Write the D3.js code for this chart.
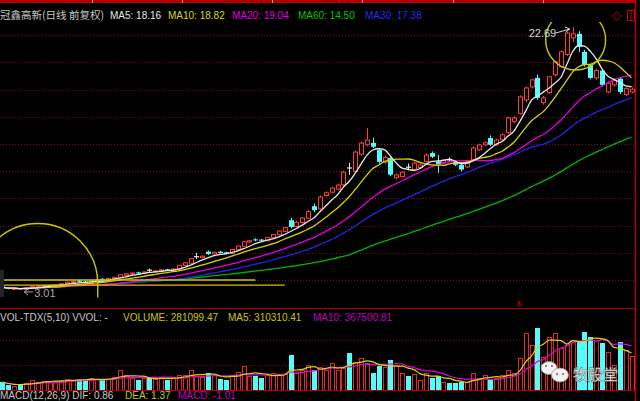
<!DOCTYPE html>
<html><head><meta charset="utf-8">
<script src="https://cdn.jsdelivr.net/npm/d3@7"></script>
<style>html,body{margin:0;padding:0;background:#000;overflow:hidden}</style>
</head><body><svg id="c" width="640" height="401"></svg>
<script>
// ---------- data ----------
const opens = [3.28,3.20,3.06,3.13,3.05,3.16,3.24,3.28,3.30,3.33,
 3.38,3.48,3.58,3.70,3.64,3.56,3.68,3.85,3.78,3.86,
 3.96,4.12,4.20,4.33,4.26,4.52,4.38,4.42,4.56,4.48,
 4.58,4.84,5.02,5.48,5.44,5.88,5.70,5.88,5.83,5.76,
 6.02,6.28,6.60,6.80,6.78,6.70,6.92,7.14,7.40,8.23,
 7.76,8.06,8.38,9.28,9.08,10.08,10.33,10.56,10.88,12.18,
 11.88,13.18,13.88,14.02,13.48,12.58,12.88,11.42,11.50,12.24,
 12.03,12.16,12.63,13.26,12.63,12.53,12.78,12.60,12.36,12.22,
 12.76,13.50,13.87,14.38,13.88,14.24,14.78,15.63,16.23,17.24,
 18.21,18.88,17.03,17.78,19.11,19.73,20.63,21.88,22.18,20.83,
 19.83,18.88,19.43,17.83,18.36,18.83,17.63,17.83];
const highs = [3.33,3.24,3.18,3.16,3.20,3.30,3.36,3.40,3.38,3.44,
 3.52,3.64,3.70,3.76,3.68,3.73,3.80,3.90,3.92,4.00,
 4.18,4.26,4.33,4.38,4.40,4.60,4.48,4.56,4.60,4.62,
 4.90,5.08,5.40,5.78,5.58,5.96,5.88,5.94,5.88,6.08,
 6.36,6.68,6.76,6.88,6.84,6.98,7.20,7.48,7.74,8.40,
 8.18,8.48,8.98,9.48,10.08,10.40,10.73,10.98,11.93,12.52,
 13.43,14.13,15.13,14.40,13.63,13.08,13.03,11.73,11.93,12.48,
 12.63,12.48,13.23,13.38,13.12,12.83,12.93,12.73,12.44,12.68,
 13.73,13.96,14.13,14.58,14.33,14.73,15.98,16.03,17.58,18.23,
 18.83,19.13,17.53,19.03,20.18,20.93,22.33,22.69,22.38,20.98,
 19.93,19.58,19.53,18.63,18.83,18.93,18.18,18.18];
const lows = [3.16,3.06,3.04,3.01,3.03,3.12,3.20,3.24,3.26,3.30,
 3.34,3.44,3.54,3.58,3.52,3.52,3.64,3.73,3.74,3.82,
 3.92,4.08,4.16,4.22,4.23,4.36,4.34,4.38,4.44,4.44,
 4.54,4.78,4.98,5.33,5.38,5.64,5.66,5.74,5.70,5.72,
 5.98,6.24,6.54,6.66,6.64,6.66,6.88,7.10,7.36,7.63,
 7.70,8.00,8.33,8.83,8.98,10.00,10.26,10.48,10.78,11.62,
 11.78,13.08,13.78,13.63,12.48,12.43,11.53,11.28,11.43,11.98,
 11.93,12.08,12.56,12.88,11.78,12.43,12.63,12.28,11.88,12.13,
 12.68,13.43,13.78,13.78,13.80,14.18,14.68,15.48,16.13,17.08,
 18.08,17.23,16.88,17.68,18.98,19.63,20.53,21.58,20.83,19.73,
 18.78,18.73,18.23,17.73,18.23,17.68,17.53,17.73];
const closes = [3.20,3.10,3.13,3.05,3.16,3.26,3.31,3.36,3.37,3.40,
 3.48,3.60,3.64,3.62,3.56,3.70,3.76,3.78,3.88,3.96,
 4.14,4.22,4.28,4.26,4.36,4.49,4.44,4.52,4.48,4.58,
 4.86,5.04,5.36,5.50,5.54,5.70,5.83,5.78,5.76,6.04,
 6.30,6.62,6.70,6.72,6.70,6.94,7.16,7.42,7.68,7.73,
 8.08,8.40,8.88,8.98,9.96,10.28,10.63,10.86,11.83,12.14,
 13.33,14.00,14.23,13.73,12.60,12.93,11.64,11.62,11.83,12.20,
 12.50,12.36,13.10,12.98,12.40,12.74,12.75,12.38,12.02,12.58,
 13.63,13.86,14.02,13.88,14.23,14.62,15.88,15.88,17.46,18.13,
 18.73,17.39,17.38,18.96,20.08,20.83,22.23,22.18,21.20,19.86,
 18.88,19.43,18.36,18.48,18.68,17.83,18.08,18.03];
const volumes = [66000,41000,33000,41000,58000,83000,66000,74000,66000,74000,
 83000,91000,83000,83000,83000,99000,91000,83000,91000,107000,
 165000,124000,99000,83000,99000,99000,91000,107000,83000,99000,
 124000,124000,165000,116000,107000,140000,124000,91000,83000,124000,
 149000,198000,116000,116000,99000,124000,140000,124000,132000,289000,
 140000,165000,206000,165000,190000,165000,223000,165000,182000,305000,
 231000,264000,223000,140000,198000,190000,248000,206000,140000,116000,
 132000,83000,140000,99000,116000,66000,58000,58000,66000,66000,
 140000,99000,124000,91000,99000,124000,165000,140000,264000,470000,
 371000,512000,272000,437000,470000,347000,371000,413000,396000,479000,
 437000,413000,388000,314000,206000,396000,330000,281099];
const categories = closes.map((_, i) => i);
const priceMAs = [60, 30, 20, 10, 5];
const volMAs = [10, 5];
const priceGrid = [3.76,5.79,7.83,9.87,11.90,13.94,15.97,18.01,20.05,22.08];
const volGrid = [206000, 413000];
const titleTexts = ["冠鑫高新(日线 前复权)", "MA5: 18.16", "MA10: 18.82", "MA20: 19.04", "MA60: 14.50", "MA30: 17.38"];
const volTexts = ["VOL-TDX(5,10) VVOL: -", "VOLUME: 281099.47", "MA5: 310310.41", "MA10: 367500.81"];
const macdTexts = ["MACD(12,26,9) DIF: 0.86", "DEA: 1.37", "MACD: -1.01"];
const highLabel = "22.69", lowLabel = "3.01";
// hand-drawn marks on the chart (price levels / bar indices)
const markLevels = [3.76, 3.38];
const markEnds = [43, 48];
const arcCenter = [6, 3.5], arcEnd = 16.2;
const ringCenter = [97.5, 21.72], ringRadiusBars = 5.1;

// ---------- styles ----------
const RED = "#ff3c3c", CYAN = "#54fcfc", BORDER = "#b40000";
const maColor = {5:"#e8e8e8", 10:"#d4d400", 20:"#e000e0", 30:"#2424e8", 60:"#00b400"};
const vmaColor = {5:"#d8d800", 10:"#e000e0"};
const LATIN = "'Liberation Sans', Arial, sans-serif";
const CJK = "'Noto Sans CJK SC', 'Liberation Sans', sans-serif";

// ---------- scales ----------
const x = d3.scaleBand().domain(categories).range([0, 634]).paddingInner(0.15);
const cx = i => x(0) + x.step() * i + x.bandwidth() / 2;
const y = d3.scaleLinear().domain([3.01, 22.69]).range([290, 27]);
const yv = d3.scaleLinear().domain([0, 520000]).range([390, 327]);

const movingAvg = (arr, n) => arr.map((_, i) => d3.mean(arr.slice(Math.max(0, i - n + 1), i + 1)));

const svg = d3.select("#c");
svg.append("rect").attr("width", 640).attr("height", 401).attr("fill", "#000");
const defs = svg.append("defs");
defs.append("clipPath").attr("id", "mainClip").append("rect")
  .attr("x", 0).attr("y", 22).attr("width", 635).attr("height", 285);
defs.append("clipPath").attr("id", "volClip").append("rect")
  .attr("x", 0).attr("y", 324).attr("width", 635).attr("height", 66);

// ---------- frame ----------
svg.append("rect").attr("x", 0).attr("y", 0).attr("width", 636).attr("height", 3).attr("fill", BORDER);
svg.selectAll("rect.tick").data([92,182,272,362,453,543]).join("rect")
  .attr("x", d => d).attr("y", 0).attr("width", 1).attr("height", 3).attr("fill", "#e89090");
svg.append("line").attr("x1", 635.5).attr("x2", 635.5).attr("y1", 0).attr("y2", 401)
  .attr("stroke", BORDER).attr("stroke-width", 1.5);
[308.5, 390.5].forEach(v => svg.append("line").attr("x1", 0).attr("x2", 636)
  .attr("y1", v).attr("y2", v).attr("stroke", BORDER).attr("stroke-width", 1.2));

// ---------- main panel ----------
const gMain = svg.append("g").attr("clip-path", "url(#mainClip)");
gMain.selectAll("line.grid").data(priceGrid).join("line")
  .attr("x1", 0).attr("x2", 635)
  .attr("y1", d => Math.round(y(d)) + 0.5).attr("y2", d => Math.round(y(d)) + 0.5)
  .attr("stroke", "#7a1818").attr("stroke-dasharray", "1,2");

const candle = gMain.selectAll("g.k").data(categories).join("g");
const kind = i => Math.abs(closes[i] - opens[i]) < 0.045 ? "doji" : (closes[i] > opens[i] ? "up" : "down");
const kColor = i => ({doji: "#e8e8e8", up: RED, down: CYAN})[kind(i)];
candle.append("line")
  .attr("x1", i => Math.round(cx(i)) + 0.5).attr("x2", i => Math.round(cx(i)) + 0.5)
  .attr("y1", i => y(highs[i])).attr("y2", i => y(lows[i]))
  .attr("stroke", kColor).attr("stroke-width", 1);
candle.filter(i => kind(i) === "up").append("rect")
  .attr("x", i => Math.round(cx(i)) - 1.5).attr("width", 4)
  .attr("y", i => y(closes[i])).attr("height", i => Math.max(1, y(opens[i]) - y(closes[i])))
  .attr("fill", "#000").attr("stroke", RED).attr("stroke-width", 1);
candle.filter(i => kind(i) === "down").append("rect")
  .attr("x", i => Math.round(cx(i)) - 2).attr("width", 5)
  .attr("y", i => y(opens[i])).attr("height", i => Math.max(1, y(closes[i]) - y(opens[i])))
  .attr("fill", CYAN);
candle.filter(i => kind(i) === "doji").append("line")
  .attr("x1", i => Math.round(cx(i)) - 2).attr("x2", i => Math.round(cx(i)) + 3)
  .attr("y1", i => y(closes[i])).attr("y2", i => y(closes[i]))
  .attr("stroke", "#e8e8e8").attr("stroke-width", 1.2);

const priceLine = d3.line().x((d, i) => cx(i)).y(d => y(d)).curve(d3.curveMonotoneX);
priceMAs.forEach(n => {
  gMain.append("path").datum(movingAvg(closes, n)).attr("d", priceLine)
    .attr("fill", "none").attr("stroke", maColor[n]).attr("stroke-width", 1.3);
});

// hand-drawn marks
const markColors = ["#c8c800", "#e8b800"];
markLevels.forEach((p, k) => {
  gMain.append("line").attr("x1", 0).attr("x2", cx(markEnds[k]))
    .attr("y1", y(p)).attr("y2", y(p)).attr("stroke", markColors[k]).attr("stroke-width", 1.3);
});
const arcR = (arcEnd - arcCenter[0]) * x.step();
const acx = cx(arcCenter[0]), acy = y(arcCenter[1]);
gMain.append("path")
  .attr("d", `M${acx - arcR},${acy} A${arcR},${arcR} 0 0 1 ${acx + arcR},${acy} L${acx + arcR},${acy + 14}`)
  .attr("fill", "none").attr("stroke", "#c8c800").attr("stroke-width", 1.4);
gMain.append("rect").attr("x", 0).attr("y", 270).attr("width", 4).attr("height", 27).attr("fill", "#242424");
gMain.append("circle").attr("cx", cx(ringCenter[0])).attr("cy", y(ringCenter[1]))
  .attr("r", ringRadiusBars * x.step()).attr("fill", "none").attr("stroke", "#c8c800").attr("stroke-width", 1.4);

// high / low labels
const iHigh = d3.maxIndex(highs), iLow = d3.minIndex(lows);
const hx = cx(iHigh), hy = y(highs[iHigh]);
svg.append("text").attr("x", hx - 44).attr("y", hy + 10).text(highLabel)
  .attr("fill", "#d8d8d8").attr("font-family", LATIN).attr("font-size", 11);
svg.append("path").attr("d", `M${hx - 17},${hy + 6} L${hx - 3},${hy + 2} M${hx - 8},${hy} L${hx - 3},${hy + 2} L${hx - 7},${hy + 5}`)
  .attr("fill", "none").attr("stroke", "#d8d8d8").attr("stroke-width", 1);
const lx = cx(iLow), ly = y(lows[iLow]);
svg.append("path").attr("d", `M${lx + 4},${ly + 2} L${lx + 13},${ly + 2} M${lx + 8},${ly - 1} L${lx + 4},${ly + 2} L${lx + 8},${ly + 5}`)
  .attr("fill", "none").attr("stroke", "#a8a8a8").attr("stroke-width", 1);
svg.append("text").attr("x", lx + 14).attr("y", ly + 7).text(lowLabel)
  .attr("fill", "#a8a8a8").attr("font-family", LATIN).attr("font-size", 11);

// ---------- volume panel ----------
const gVol = svg.append("g").attr("clip-path", "url(#volClip)");
gVol.selectAll("line.grid").data(volGrid).join("line")
  .attr("x1", 0).attr("x2", 635)
  .attr("y1", d => Math.round(yv(d)) + 0.5).attr("y2", d => Math.round(yv(d)) + 0.5)
  .attr("stroke", "#7a1818").attr("stroke-dasharray", "1,2");
const volDown = i => closes[i] < opens[i];
gVol.selectAll("rect.vu").data(categories.filter(i => !volDown(i))).join("rect")
  .attr("x", i => Math.round(cx(i)) - 1.5).attr("width", 4)
  .attr("y", i => Math.round(yv(volumes[i])) + 0.5).attr("height", i => 390 - Math.round(yv(volumes[i])))
  .attr("fill", "#000").attr("stroke", "#e02828").attr("stroke-width", 1);
gVol.selectAll("rect.vd").data(categories.filter(volDown)).join("rect")
  .attr("x", i => Math.round(cx(i)) - 2).attr("width", 5)
  .attr("y", i => yv(volumes[i])).attr("height", i => 390 - yv(volumes[i]))
  .attr("fill", CYAN);
const volLine = d3.line().x((d, i) => cx(i)).y(d => yv(d)).curve(d3.curveMonotoneX);
volMAs.forEach(n => {
  gVol.append("path").datum(movingAvg(volumes, n)).attr("d", volLine)
    .attr("fill", "none").attr("stroke", vmaColor[n]).attr("stroke-width", 1.2);
});

// watermark
const wm = svg.append("g");
wm.append("ellipse").attr("cx", 549).attr("cy", 368).attr("rx", 8).attr("ry", 6.5)
  .attr("fill", "#f2f2f2").attr("stroke", "#9a9a9a").attr("stroke-width", 0.8);
wm.append("ellipse").attr("cx", 560).attr("cy", 375).attr("rx", 8.5).attr("ry", 7)
  .attr("fill", "#f2f2f2").attr("stroke", "#9a9a9a").attr("stroke-width", 0.8);
[[546,366],[552,366],[557,374],[563,374]].forEach(p => wm.append("circle")
  .attr("cx", p[0]).attr("cy", p[1]).attr("r", 1).attr("fill", "#666"));
wm.append("text").attr("x", 573).attr("y", 380).text("牧股堂")
  .attr("fill", "#ececec").attr("stroke", "#555").attr("stroke-width", 0.4)
  .attr("font-family", CJK).attr("font-size", 15).attr("font-weight", 500);

// ---------- texts ----------
const addText = (txt, xx, yy, color, fam, size) => svg.append("text").attr("x", xx).attr("y", yy)
  .text(txt).attr("fill", color).attr("font-family", fam || LATIN).attr("font-size", size || 10);
addText(titleTexts[0], 0, 19, "#c8c8c8", CJK, 10.5);
addText(titleTexts[1], 110, 19, maColor[5]);
addText(titleTexts[2], 168, 19, "#d8d800");
addText(titleTexts[3], 232, 19, "#e000e0");
addText(titleTexts[4], 298, 19, "#00c800");
addText(titleTexts[5], 365, 19, "#2a2af0");
addText(volTexts[0], 0, 321, "#c8c8c8");
addText(volTexts[1], 123, 321, "#c8c800");
addText(volTexts[2], 228, 321, "#c8c800");
addText(volTexts[3], 313, 321, "#c000c0");
addText(macdTexts[0], 0, 399, "#c8c8c8");
addText(macdTexts[1], 125, 399, "#c8c800");
addText(macdTexts[2], 178, 399, "#c000c0");

// small marks
svg.append("text").attr("x", 517).attr("y", 306).text("$").attr("fill", "#d00000")
  .attr("font-family", LATIN).attr("font-size", 8);
svg.append("path").attr("d", "M617,11.5 L621.5,16 L617,20.5 L612.5,16 Z")
  .attr("fill", "none").attr("stroke", "#c80000").attr("stroke-width", 1);
svg.append("rect").attr("x", 627.5).attr("y", 10.5).attr("width", 7).attr("height", 10)
  .attr("fill", "none").attr("stroke", "#c80000").attr("stroke-width", 1);
svg.append("line").attr("x1", 631).attr("x2", 631).attr("y1", 10.5).attr("y2", 20.5)
  .attr("stroke", "#c80000").attr("stroke-width", 1);
</script>
</body></html>
